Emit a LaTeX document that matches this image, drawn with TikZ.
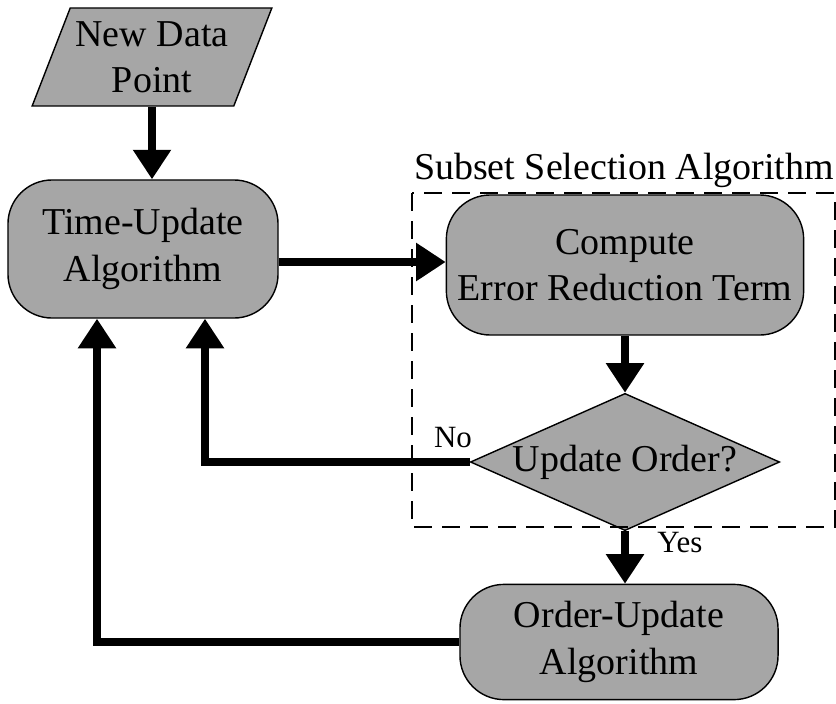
\documentclass[tikz,border=0pt]{standalone}
\usepackage{fontspec}
\setmainfont{Liberation Serif}
\usetikzlibrary{shapes.geometric, arrows.meta, calc}
\tikzset{
  procbox/.style={
    draw,
    rectangle,
    rounded corners=1.1cm,
    fill=gray!70,
    line width=1pt,
    align=center,
    font=\fontsize{27}{33}\selectfont,
  },
  decision/.style={
    draw,
    diamond,
    fill=gray!70,
    line width=1pt,
    inner sep=0pt,
    aspect=2.25,
    font=\fontsize{27}{33}\selectfont,
  },
  datain/.style={
    draw,
    trapezium,
    trapezium left angle=65,
    trapezium right angle=115,
    trapezium stretches=true,
    fill=gray!70,
    line width=1pt,
    align=center,
    font=\fontsize{27}{33}\selectfont,
  },
  arrow/.style={
    -{Triangle[length=21pt,width=26pt]},
    line width=5pt
  },
  lbl/.style={
    font=\fontsize{22}{26}\selectfont
  }
}
\begin{document}
\begin{tikzpicture}[x=0.025cm, y=-0.025cm]
  \useasboundingbox (0,0) rectangle (836,704);

  % Blocs
  \node[datain, minimum width=6cm, minimum height=2.45cm] (newpt) at (152,57) {New Data\\Point};
  \node[procbox, minimum width=6.75cm, minimum height=3.45cm] (tu) at (143,249) {Time-Update\\Algorithm};
  \node[procbox, minimum width=8.93cm, minimum height=3.5cm] (err) at (625,265) {Compute\\Error Reduction Term};
  \node[decision, minimum width=7.73cm, minimum height=3.43cm] (upd) at (625,462) {Update Order?};
  \node[procbox, minimum width=7.95cm, minimum height=2.88cm] (ou) at (619,642) {Order-Update\\Algorithm};

  % Cadre de l'algorithme de selection
  \draw[line width=1.2pt, dash pattern=on 0.45cm off 0.25cm] (412,193) rectangle (835,527);
  \node[font=\fontsize{27}{33}\selectfont] (subset) at (624,170) {Subset Selection Algorithm};

  % Fleches
  \draw[arrow] (newpt.south) -- (newpt.south |- tu.north);
  \draw[arrow] (tu.east |- 0,262) -- (err.west |- 0,262);
  \draw[arrow] (err) -- (upd);
  \draw[arrow] (upd.west) -| ($(tu.south)+(62,0)$);
  \draw[arrow] (upd.south) -- (upd.south |- ou.north);
  \draw[arrow] (ou.west) -| ($(tu.south)+(-46,0)$);

  % Etiquettes
  \node[lbl] (no) at (453,438) {No};
  \node[lbl] (yes) at (680,543) {Yes};
\end{tikzpicture}
\end{document}
